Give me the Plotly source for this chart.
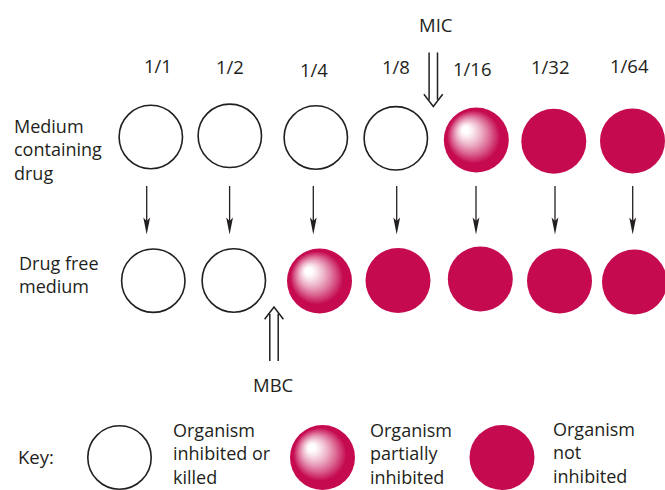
import plotly.graph_objects as go

# ---------------- data ----------------
dilutions = ["1/1", "1/2", "1/4", "1/8", "1/16", "1/32", "1/64"]
drug_row_state = ["killed", "killed", "killed", "killed", "partial", "growth", "growth"]
free_row_state = ["killed", "killed", "partial", "growth", "growth", "growth", "growth"]
row_labels = [["Medium", "containing", "drug"], ["Drug free", "medium"]]
key_states = ["killed", "partial", "growth"]
key_texts = [["Organism", "inhibited or", "killed"],
             ["Organism", "partially", "inhibited"],
             ["Organism", "not", "inhibited"]]
mic_label = "MIC"
mbc_label = "MBC"
key_title = "Key:"

# ---------------- layout (pixel positions) ----------------
W, H = 665, 490
TOP_X = [150.8, 229.8, 315.8, 395.8, 476.3, 553.8, 632.5]
TOP_Y = [137.0, 135.8, 137.5, 138.3, 140.0, 141.3, 141.0]
BOT_X = [153.3, 233.8, 319.5, 398.0, 480.3, 559.5, 634.5]
BOT_Y = [280.7, 280.5, 281.0, 280.5, 279.0, 281.0, 282.0]
ARROW_X = [146.7, 229.6, 313.3, 396.7, 476.0, 555.0, 632.7]
ARROW_Y0, ARROW_TIP = 186.0, 234.5
LABEL_X = [157.5, 229.7, 314.3, 396.0, 472.5, 550.0, 629.0]
LABEL_Y = [65.7, 66.0, 69.0, 66.7, 68.0, 66.0, 65.0]
KEY_X = [119.5, 322.5, 502.0]
KEY_Y = 457.5
KEY_TEXT_X = [171.7, 369.3, 551.7]
KEY_TEXT_BOTTOM = [489.5, 489.5, 488.5]
ROW_LABEL_X = [12.5, 18.3]
ROW_LABEL_Y = [149.0, 274.7]
D = 65.0

CRIMSON = (197, 10, 80)
INK = "#231F20"
FONT = "Open Sans"
FS = 18.5
FS_BLOCK = 18

fig = go.Figure()


def rgb(c):
    return "rgb(%d,%d,%d)" % tuple(int(round(v)) for v in c)


def add_well(cx, cy, state):
    if state == "killed":
        fig.add_trace(go.Scatter(x=[cx], y=[cy], mode="markers", hoverinfo="skip",
                                 marker=dict(size=D - 1.6, color="white",
                                             line=dict(color=INK, width=1.6))))
    elif state == "growth":
        fig.add_trace(go.Scatter(x=[cx], y=[cy], mode="markers", hoverinfo="skip",
                                 marker=dict(size=D, color=rgb(CRIMSON), line=dict(width=0))))
    else:
        R = D / 2
        xs, ys, ss, cs = [cx], [cy], [D], [rgb(CRIMSON)]
        c0x, c0y, rg = cx - 2.5, cy - 3.0, R - 5.5
        fx, fy = cx - 12.0, cy - 11.0
        n = 45
        for k in range(n):
            t = 1 - k / n
            px = fx + t * (c0x - fx)
            py = fy + t * (c0y - fy)
            s = max(0.0, min(1.0, (t - 0.12) / 0.88)) ** 1.25
            col = tuple(255 * (1 - s) + CRIMSON[i] * s for i in range(3))
            xs.append(px); ys.append(py); ss.append(2 * t * rg); cs.append(rgb(col))
        fig.add_trace(go.Scatter(x=xs, y=ys, mode="markers", hoverinfo="skip",
                                 marker=dict(size=ss, color=cs, line=dict(width=0), opacity=1)))


for i in range(len(dilutions)):
    add_well(TOP_X[i], TOP_Y[i], drug_row_state[i])
    add_well(BOT_X[i], BOT_Y[i], free_row_state[i])
for i, st in enumerate(key_states):
    add_well(KEY_X[i], KEY_Y, st)


def text(x, y, s, anchor="left", yanchor="middle", size=FS):
    fig.add_annotation(x=x, y=y, text=s, showarrow=False, xanchor=anchor, yanchor=yanchor,
                       align="left", borderpad=0,
                       font=dict(family=FONT, size=size, color=INK))


for i, lab in enumerate(dilutions):
    text(LABEL_X[i], LABEL_Y[i], lab, "center")
for r, lines in enumerate(row_labels):
    text(ROW_LABEL_X[r], ROW_LABEL_Y[r], "<br>".join(lines), size=FS_BLOCK)
for k, lines in enumerate(key_texts):
    text(KEY_TEXT_X[k], KEY_TEXT_BOTTOM[k], "<br>".join(lines), yanchor="bottom", size=FS_BLOCK)
text(16.7, 456.7, key_title)
text(436.3, 24, mic_label, "center")
text(273.3, 384, mbc_label, "center")

shapes = []
# single arrows
for ax in ARROW_X:
    shapes.append(dict(type="line", x0=ax, x1=ax, y0=ARROW_Y0, y1=ARROW_TIP - 10,
                       line=dict(color=INK, width=1.3)))
    shapes.append(dict(type="path",
                       path="M %.1f,%.1f L %.1f,%.1f L %.1f,%.1f L %.1f,%.1f Z" % (
                           ax - 3.4, ARROW_TIP - 17, ax, ARROW_TIP, ax + 3.4, ARROW_TIP - 17,
                           ax, ARROW_TIP - 13.5),
                       fillcolor=INK, line=dict(width=0)))


def double_arrow(tipx, tipy, direction, tail_len):
    # direction: +1 pointing down, -1 pointing up
    hw, hl = 9.4, 12.3
    sx = 4.2
    base = tipy - direction * hl
    join = tipy - direction * (hl * (1 - sx / hw))
    tail = tipy - direction * tail_len
    for dx in (-sx, sx):
        shapes.append(dict(type="line", x0=tipx + dx, x1=tipx + dx, y0=tail, y1=join,
                           line=dict(color=INK, width=1.5)))
    shapes.append(dict(type="path",
                       path="M %.1f,%.1f L %.1f,%.1f L %.1f,%.1f" % (
                           tipx - hw, base, tipx, tipy, tipx + hw, base),
                       line=dict(color=INK, width=1.5)))


double_arrow(433.3, 106.5, +1, 54)
double_arrow(274.0, 307.0, -1, 54)

fig.update_layout(
    width=W, height=H, margin=dict(l=0, r=0, t=0, b=0),
    paper_bgcolor="white", plot_bgcolor="white", showlegend=False,
    xaxis=dict(range=[0, W], visible=False, fixedrange=True),
    yaxis=dict(range=[H, 0], visible=False, fixedrange=True),
    shapes=shapes,
)
fig.update_traces(cliponaxis=False)
fig.write_html("out.html", config={"displayModeBar": False},
               post_script="document.body.style.margin='0';document.body.style.overflow='hidden';")
